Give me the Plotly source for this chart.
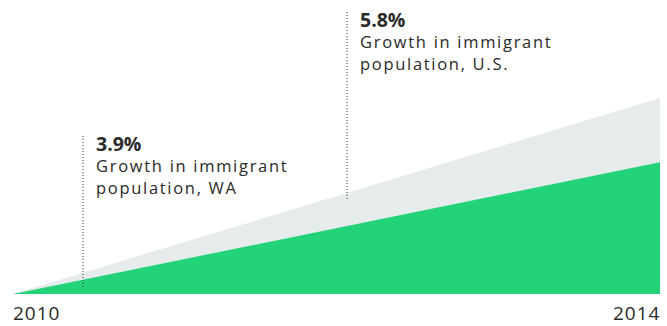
import plotly.graph_objects as go

# Data
years = [2010, 2014]
us_growth = [0, 5.8]
wa_growth = [0, 3.9]
labels = [
    {"pct": "3.9%", "l1": "Growth in immigrant", "l2": "population, WA"},
    {"pct": "5.8%", "l1": "Growth in immigrant", "l2": "population, U.S."},
]

GREEN = "rgb(35,211,122)"
GRAY = "rgb(230,235,235)"
TEXT = "#2a2a2a"
FONT = "Open Sans"

W, H = 667, 326
L, R, T, B = 13, 7, 0, 32
plot_w = W - L - R
plot_h = H - T - B
YMAX = 5.8 * plot_h / (294 - 98)

def px_to_x(px):
    return years[0] + (px - L) / plot_w * (years[1] - years[0])

def py_to_y(py):
    return (T + plot_h - py) / plot_h * YMAX

def py_to_paper(py):
    return (T + plot_h - py) / plot_h

fig = go.Figure()
fig.add_trace(go.Scatter(x=years, y=us_growth, fill="tozeroy", mode="lines",
                         line=dict(width=0, color=GRAY), fillcolor=GRAY,
                         hoverinfo="skip", name="U.S."))
fig.add_trace(go.Scatter(x=years, y=wa_growth, fill="tozeroy", mode="lines",
                         line=dict(width=0, color=GREEN), fillcolor=GREEN,
                         hoverinfo="skip", name="WA"))

# dotted leader lines
leaders = [(83, 135, 287), (347, 10, 199)]
for (lx, ytop, ybot) in leaders:
    fig.add_shape(type="line", x0=px_to_x(lx), x1=px_to_x(lx),
                  y0=py_to_y(ybot), y1=py_to_y(ytop),
                  line=dict(color="#333", width=1, dash="1px,2px"))

text_pos = [(94, 128), (358, 4)]
for lab, (tx, ty) in zip(labels, text_pos):
    txt = ('<span style="font-size:19.5px;font-weight:bold">' + lab["pct"] + '</span><br>'
           '<span style="letter-spacing:1.7px">' + lab["l1"] + '</span><br>'
           '<span style="letter-spacing:1.7px">' + lab["l2"] + '</span>')
    fig.add_annotation(x=px_to_x(tx), y=py_to_y(ty), text=txt, align="left",
                       xanchor="left", yanchor="top", showarrow=False,
                       font=dict(family=FONT, size=16.5, color=TEXT))

fig.add_annotation(x=years[0], xref="x", y=py_to_paper(313), yref="paper",
                   text='<span style="letter-spacing:1px">' + str(years[0]) + '</span>',
                   xanchor="left", yanchor="middle", showarrow=False,
                   xshift=-2, font=dict(family=FONT, size=19, color=TEXT))
fig.add_annotation(x=years[1], xref="x", y=py_to_paper(313), yref="paper",
                   text='<span style="letter-spacing:1px">' + str(years[1]) + '</span>',
                   xanchor="right", yanchor="middle", showarrow=False,
                   xshift=2, font=dict(family=FONT, size=19, color=TEXT))

fig.update_xaxes(range=[years[0], years[1]], visible=False, fixedrange=True)
fig.update_yaxes(range=[0, YMAX], visible=False, fixedrange=True)
fig.update_layout(width=W, height=H, margin=dict(l=L, r=R, t=T, b=B),
                  paper_bgcolor="white", plot_bgcolor="white", showlegend=False)
fig.write_html("out.html", config={"displayModeBar": False})
